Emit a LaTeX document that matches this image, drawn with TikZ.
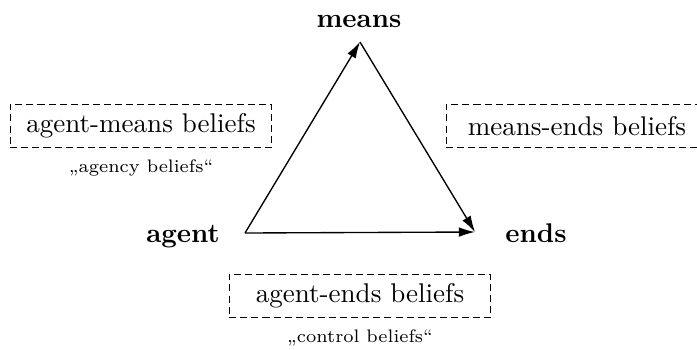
\documentclass[tikz,border=0pt]{standalone}
\usetikzlibrary{arrows.meta,positioning}

\tikzset{
  belief/.style={draw, dash pattern=on 2.6pt off 1.5pt, line width=0.45pt,
    minimum width=3.4cm, minimum height=16pt, font=\normalsize},
  nickname/.style={font=\fontsize{6.7}{8}\selectfont, inner sep=1pt},
  corner/.style={font=\bfseries, anchor=base},
  link/.style={-{Latex[length=6pt,width=3.6pt]}, line width=0.5pt}
}

\begin{document}
\begin{tikzpicture}[x=0.013cm, y=-0.013cm]
    \useasboundingbox (0,0) rectangle (697,349);

    % triangle corners
    \coordinate (M) at (360,42);
    \coordinate (A) at (245,233);
    \coordinate (E) at (475,232);

    % corner labels
    \node[corner] (means) at (359,27) {means};
    \node[corner] (agent) at (183,242) {agent};
    \node[corner] (ends)  at (536,242) {ends};

    % arrows
    \draw[link] (A) -- (M);
    \draw[link] (M) -- (E);
    \draw[link] (A) -- (E);

    % belief boxes
    \node[belief] (am) at (141,126) {agent-means beliefs};
    \node[belief] (me) at (577,126) {means-ends beliefs};
    \node[belief] (ae) at (360,296) {agent-ends beliefs};

    % other names
    \node[nickname, below=3pt of am] (agency) {,,agency beliefs``};
    \node[nickname, below=3pt of ae] (control) {,,control beliefs``};
\end{tikzpicture}
\end{document}
